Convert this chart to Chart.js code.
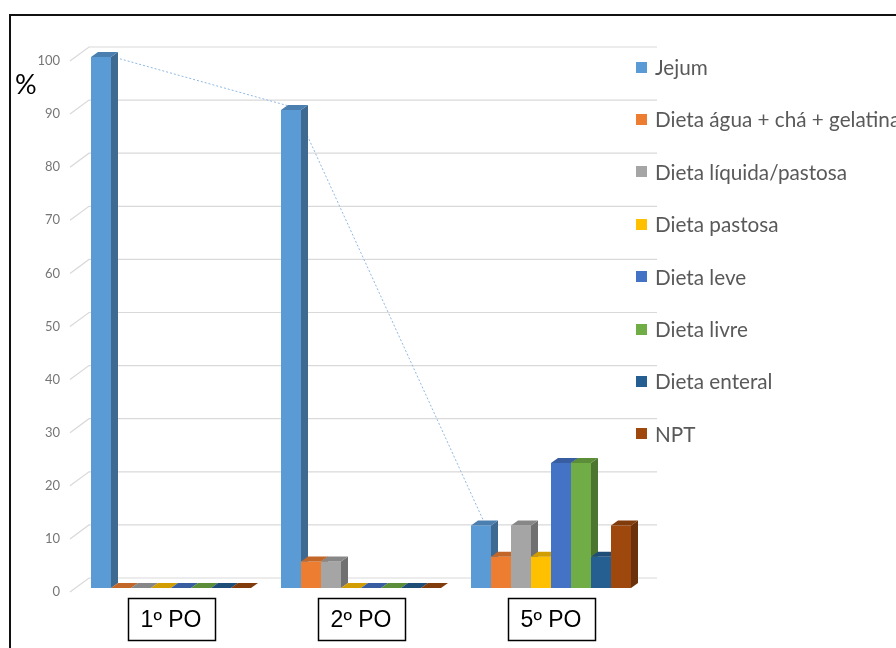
<!DOCTYPE html>
<html>
<head>
<meta charset="utf-8">
<script src="https://cdn.jsdelivr.net/npm/chart.js@4"></script>
<style>
  html, body { margin: 0; padding: 0; background: #fff; }
  #wrap { position: relative; width: 896px; height: 648px; overflow: hidden; }
  #frame { position: absolute; left: 9px; top: 14px; width: 1000px; height: 1000px;
           border-left: 2px solid #111; border-top: 2px solid #111; }
  #chart { position: absolute; left: 0; top: 0; }
  #pct { position: absolute; left: 15px; top: 67px; font: 27px Lato, sans-serif; color: #000; }
  #legend { position: absolute; left: 636px; top: 0; font: 20.7px Lato, sans-serif; color: #595959; }
  #legend .item { position: absolute; left: 0; height: 26px; line-height: 26px;
                  white-space: nowrap; display: flex; align-items: center; }
  #legend .sw { width: 11px; height: 11px; margin-right: 8px; flex: none; }
</style>
</head>
<body>
<div id="wrap">
  <div id="frame"></div>
  <canvas id="chart" width="896" height="648"></canvas>
  <div id="pct">%</div>
  <div id="legend"></div>
</div>
<script>
// Post-operative day groups
const categories = ['1º PO', '2º PO', '5º PO'];

// Diet series (% of patients)
const jejum           = [100, 90, 11.76];
const aguaChaGelatina = [0, 5, 5.88];
const liquidaPastosa  = [0, 5, 11.76];
const pastosa         = [0, 0, 5.88];
const leve            = [0, 0, 23.53];
const livre           = [0, 0, 23.53];
const enteral         = [0, 0, 5.88];
const npt             = [0, 0, 11.76];

const seriesNames = ['Jejum', 'Dieta água + chá + gelatina', 'Dieta líquida/pastosa',
  'Dieta pastosa', 'Dieta leve', 'Dieta livre', 'Dieta enteral', 'NPT'];
const seriesValues = [jejum, aguaChaGelatina, liquidaPastosa, pastosa, leve, livre, enteral, npt];
const seriesColors = ['#5B9BD5', '#ED7D31', '#A5A5A5', '#FFC000', '#4472C4', '#70AD47', '#255E91', '#9E480E'];

// Value axis
const yMin = 0, yMax = 100, yStep = 10;

// Depth of the extruded bars and of the back wall
const DX = 7, DY = -5;
const WALL_DX = 13, WALL_DY = -10;

function shade(hex, f) {
  const n = parseInt(hex.slice(1), 16);
  const r = Math.round(((n >> 16) & 255) * f);
  const g = Math.round(((n >> 8) & 255) * f);
  const b = Math.round((n & 255) * f);
  return `rgb(${r},${g},${b})`;
}

// Back wall grid, tick stubs and the dotted Jejum trend line
const backdrop = {
  id: 'backdrop',
  beforeDatasetsDraw(chart) {
    const { ctx, chartArea, scales: { y } } = chart;
    ctx.save();
    ctx.strokeStyle = '#D9D9D9';
    ctx.lineWidth = 1.2;
    y.ticks.forEach(t => {
      const py = y.getPixelForValue(t.value);
      ctx.beginPath();
      ctx.moveTo(chartArea.left - 6, py + 4);
      ctx.lineTo(chartArea.left + WALL_DX, py + WALL_DY);
      ctx.lineTo(chartArea.right + 11, py + WALL_DY);
      ctx.stroke();
    });
    // trend line through the top faces of the Jejum bars
    const meta = chart.getDatasetMeta(0);
    ctx.strokeStyle = '#8FB8E2';
    ctx.lineWidth = 1;
    ctx.setLineDash([2, 2]);
    ctx.beginPath();
    meta.data.forEach((bar, i) => {
      const px = bar.x + DX / 2, py = bar.y + DY / 2;
      if (i === 0) ctx.moveTo(px, py); else ctx.lineTo(px, py);
    });
    ctx.stroke();
    ctx.restore();
  }
};

// Side and top faces of every bar
const extrude = {
  id: 'extrude',
  afterDatasetsDraw(chart) {
    const { ctx, width, height } = chart;
    const n = chart.data.datasets.length;
    ctx.save();
    for (let c = 0; c < categories.length; c++) {
      for (let d = 0; d < n; d++) {
        const bar = chart.getDatasetMeta(d).data[c];
        const next = d + 1 < n ? chart.getDatasetMeta(d + 1).data[c] : null;
        const color = seriesColors[d];
        const left = bar.x - bar.width / 2, right = bar.x + bar.width / 2;
        const top = bar.y, base = bar.base;
        ctx.save();
        if (next) {
          // the neighbour's front face hides whatever lies behind it
          ctx.beginPath();
          ctx.rect(0, 0, width, height);
          const nl = next.x - next.width / 2;
          ctx.rect(nl, next.y, next.width, next.base - next.y);
          ctx.clip('evenodd');
        }
        // side
        if (base - top > 0.5) {
          ctx.fillStyle = shade(color, 0.68);
          ctx.beginPath();
          ctx.moveTo(right, top);
          ctx.lineTo(right + DX, top + DY);
          ctx.lineTo(right + DX, base + DY);
          ctx.lineTo(right, base);
          ctx.closePath();
          ctx.fill();
        }
        // top
        ctx.fillStyle = shade(color, 0.82);
        ctx.beginPath();
        ctx.moveTo(left, top);
        ctx.lineTo(left + DX, top + DY);
        ctx.lineTo(right + DX, top + DY);
        ctx.lineTo(right, top);
        ctx.closePath();
        ctx.fill();
        ctx.restore();
      }
    }
    ctx.restore();
  }
};

// Framed category labels
const CAT_FAMILY = '"Liberation Sans", Arial, sans-serif';
const CAT_SIZE = 23;
const labelBoxes = {
  id: 'labelBoxes',
  afterDraw(chart) {
    const { ctx, chartArea, scales: { x } } = chart;
    ctx.save();
    ctx.font = CAT_SIZE + 'px ' + CAT_FAMILY;
    ctx.strokeStyle = '#000';
    ctx.lineWidth = 1.5;
    categories.forEach((lab, i) => {
      const cx = x.getPixelForTick(i);
      const w = ctx.measureText(lab).width + 26;
      ctx.strokeRect(Math.round(cx - w / 2) + 0.5, chartArea.bottom + 10.5, Math.round(w), 42);
    });
    ctx.restore();
  }
};

new Chart(document.getElementById('chart'), {
  type: 'bar',
  data: {
    labels: categories,
    datasets: seriesNames.map((name, i) => ({
      label: name,
      data: seriesValues[i],
      backgroundColor: seriesColors[i],
      borderWidth: 0,
      barPercentage: 1,
      categoryPercentage: 160 / 190
    }))
  },
  options: {
    responsive: false,
    animation: false,
    devicePixelRatio: 1,
    layout: { padding: { top: 57, right: 250, bottom: 0, left: 0 } },
    plugins: { legend: { display: false }, tooltip: { enabled: false } },
    scales: {
      x: {
        grid: { display: false, drawTicks: false },
        border: { display: false },
        ticks: { font: { family: CAT_FAMILY, size: CAT_SIZE }, color: '#000', padding: 19, maxRotation: 0 },
        afterFit(scale) { scale.height = 60; }
      },
      y: {
        min: yMin, max: yMax,
        grid: { display: false, drawTicks: false },
        border: { display: false },
        ticks: { stepSize: yStep, font: { family: 'Lato', size: 13 }, color: '#767676',
                 padding: 16, labelOffset: 4 },
        afterFit(scale) { scale.width = 76; }
      }
    }
  },
  plugins: [backdrop, extrude, labelBoxes]
});

// Legend built from the series arrays
const legend = document.getElementById('legend');
seriesNames.forEach((name, i) => {
  const item = document.createElement('div');
  item.className = 'item';
  item.style.top = (67 + 52.4 * i - 13) + 'px';
  const sw = document.createElement('span');
  sw.className = 'sw';
  sw.style.background = seriesColors[i];
  const tx = document.createElement('span');
  tx.textContent = name;
  item.appendChild(sw);
  item.appendChild(tx);
  legend.appendChild(item);
});
</script>
</body>
</html>
